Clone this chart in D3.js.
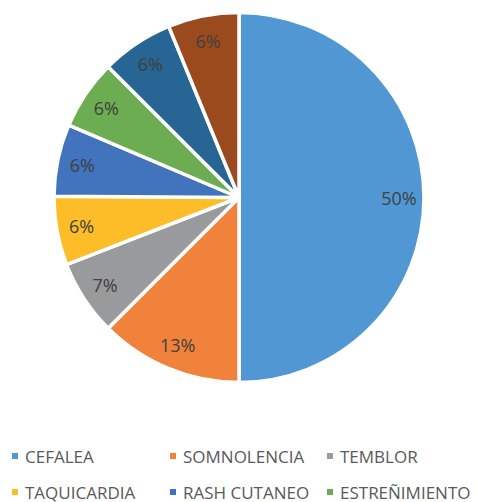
<!DOCTYPE html>
<html><head><meta charset="utf-8">
<script src="https://cdn.jsdelivr.net/npm/d3@7"></script>
<style>html,body{margin:0;padding:0;background:#fff;overflow:hidden}</style>
</head><body>
<svg id="chart" width="477" height="502"></svg>
<script>
const categories = ["CEFALEA","SOMNOLENCIA","TEMBLOR","TAQUICARDIA","RASH CUTANEO","ESTREÑIMIENTO","NÁUSEAS","MAREO"];
const values = [50, 12.5, 6.6, 6.0, 6.3, 6.1, 6.3, 6.2];
const colors = ["#5097D3","#F0823C","#989A9B","#FDBD28","#4273BD","#6BAD50","#266594","#9B4A1E"];

const svg = d3.select("#chart");
const cx = 239, cy = 197.5, R = 185;
const font = "'Open Sans', sans-serif";

const pie = d3.pie().sort(null).value(d => d.v);
const data = pie(categories.map((c,i) => ({c, v: values[i], col: colors[i]})));
const arc = d3.arc().innerRadius(0).outerRadius(R);
const labelArc = d3.arc().innerRadius(160).outerRadius(160);
const total = d3.sum(values);

const g = svg.append("g").attr("transform", `translate(${cx},${cy})`);
g.selectAll("path").data(data).enter().append("path")
  .attr("d", arc)
  .attr("fill", d => d.data.col)
  .attr("stroke", "#fff").attr("stroke-width", 3.5).attr("stroke-linejoin","miter");

g.selectAll("text").data(data).enter().append("text")
  .attr("transform", d => `translate(${labelArc.centroid(d)})`)
  .attr("text-anchor","middle").attr("dominant-baseline","central")
  .attr("font-family", font).attr("font-size", 18).attr("fill","#404040")
  .text(d => Math.round(d.data.v / total * 100) + "%");

// legend (only the first two rows fit inside the picture)
const colX = [12, 170, 327];
const rowY = [456, 492];
const lg = svg.append("g");
categories.slice(0, 6).forEach((c,i) => {
  const x = colX[i % 3], y = rowY[Math.floor(i/3)];
  lg.append("rect").attr("x", x).attr("y", y - 3).attr("width", 6).attr("height", 6).attr("fill", colors[i]);
  lg.append("text").attr("x", x + 13).attr("y", y).attr("dominant-baseline","central")
    .attr("font-family", font).attr("font-size", 17).attr("fill","#595959").text(c);
});
</script>
</body></html>
